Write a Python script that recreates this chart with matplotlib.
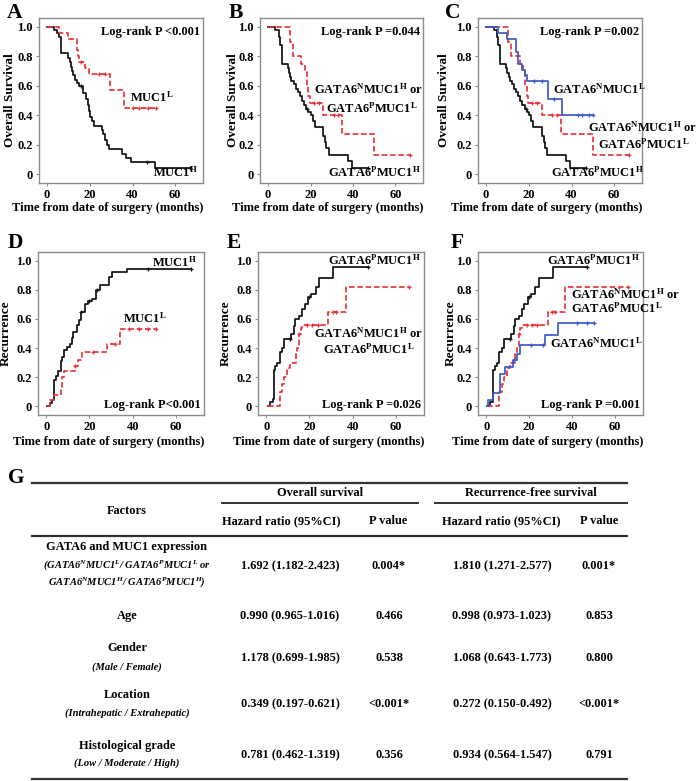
import numpy as np
import matplotlib
matplotlib.use('Agg')
import matplotlib.pyplot as plt

plt.rcParams['font.family'] = ['Liberation Serif', 'DejaVu Serif']
plt.rcParams['font.weight'] = 'bold'
plt.rcParams['mathtext.fontset'] = 'custom'
plt.rcParams['mathtext.rm'] = 'Liberation Serif:bold'
plt.rcParams['mathtext.it'] = 'Liberation Serif:italic:bold'
plt.rcParams['mathtext.bf'] = 'Liberation Serif:bold'

# ---------------- data: Kaplan-Meier step curves ----------------
# Overall survival, MUC1 high / low (panel A)
a_high_t = [0, 3, 4.4, 5.6, 6.4, 6.7, 10, 10.5, 11, 11.5, 12, 13, 14, 15, 17, 18, 19, 19.5, 20, 21, 22,
            25.5, 26, 27, 28, 29, 35, 37, 39.5, 50.6]
a_high_s = [1.0, 0.98, 0.96, 0.93, 0.88, 0.82, 0.79, 0.76, 0.73, 0.70, 0.67, 0.64, 0.62, 0.60, 0.55, 0.51,
            0.47, 0.43, 0.39, 0.36, 0.33, 0.30, 0.27, 0.23, 0.20, 0.17, 0.14, 0.11, 0.08, 0.04]
a_high_cens = [16, 46.7, 67]
a_low_t = [0, 5.6, 10, 14.1, 14.5, 15, 17.7, 19.7, 29.5, 36]
a_low_s = [1.0, 0.96, 0.92, 0.84, 0.80, 0.76, 0.72, 0.68, 0.57, 0.45]
a_low_cens = [16, 24.4, 27, 40.4, 43.2, 47.4, 51]

# Overall survival, GATA6/MUC1 groups (panels B, C)
os_pH_t = [0, 3.5, 5, 5.5, 6.6, 9.3, 10, 10.5, 11, 12, 13, 14, 15, 16, 17, 18, 19, 20, 21, 22, 26, 27,
           27.5, 28.5, 37.5, 39.5]
os_pH_s = [1.0, 0.98, 0.93, 0.88, 0.75, 0.72, 0.69, 0.66, 0.63, 0.61, 0.58, 0.56, 0.53, 0.50, 0.47, 0.44,
           0.42, 0.40, 0.36, 0.32, 0.26, 0.22, 0.18, 0.13, 0.09, 0.04]
os_pH_cens = [18.5, 47]
os_mix_t = [0, 10.3, 11.7, 15.7, 17.2, 18.2, 19, 19.6, 26, 35, 50]
os_mix_s = [1.0, 0.90, 0.80, 0.75, 0.70, 0.60, 0.53, 0.48, 0.40, 0.27, 0.13]
os_mix_cens = [21.7, 24, 31, 33, 67]
os_nL_t = [0, 5.6, 10, 13.8, 15, 17, 18.2, 19.3, 29.2, 35.7]
os_nL_s = [1.0, 0.96, 0.92, 0.83, 0.75, 0.71, 0.67, 0.63, 0.51, 0.40]
os_nL_cens = [22.4, 26.3, 31.8, 43, 45, 48, 50]

# Recurrence, MUC1 high / low (panel D)
d_high_t = [0.5, 1.7, 2.8, 3.6, 4.3, 5.5, 6.7, 7.5, 8.3, 9.5, 11.1, 11.8, 12.6, 14.2, 15.3, 16.0, 17.9,
            19.5, 21.0, 23.1, 25.0, 29.0, 30.3, 37.5]
d_high_v = [0.0, 0.02, 0.04, 0.18, 0.21, 0.24, 0.31, 0.34, 0.39, 0.41, 0.43, 0.47, 0.51, 0.56, 0.59, 0.65,
            0.70, 0.72, 0.74, 0.80, 0.83, 0.885, 0.92, 0.94]
d_high_cens = [16.3, 19.6, 23.5, 47, 67]
d_low_t = [0.5, 1.7, 3.6, 6.7, 7.5, 8.3, 13.2, 14.8, 16.4, 28.2, 34.3]
d_low_v = [0.0, 0.04, 0.08, 0.13, 0.20, 0.24, 0.28, 0.32, 0.37, 0.43, 0.53]
d_low_cens = [13.5, 21.5, 31.6, 38.5, 43, 47.3, 50.6]

# Recurrence, GATA6/MUC1 groups (panels E, F)
rec_pH_t = [0.6, 1.9, 3.0, 3.4, 4.2, 5.0, 6.2, 7.3, 8.4, 11.5, 12.8, 13.5, 15.1, 16.7, 17.8, 19.3, 20.9,
            22.9, 24.5, 31]
rec_pH_v = [0.0, 0.03, 0.05, 0.25, 0.28, 0.30, 0.37, 0.40, 0.46, 0.50, 0.55, 0.60, 0.62, 0.67, 0.70, 0.75,
            0.77, 0.82, 0.88, 0.96]
rec_pH_cens = [11, 20, 47]
rec_mix_t = [0.6, 6.2, 7.3, 8.1, 9.7, 10.9, 13.6, 14.3, 15.1, 15.9, 16.7, 28.8, 36.9]
rec_mix_v = [0.0, 0.10, 0.15, 0.20, 0.26, 0.30, 0.36, 0.40, 0.50, 0.535, 0.56, 0.65, 0.82]
rec_mix_cens = [15.2, 18.8, 21.4, 23.8, 30.7, 32.2, 66]
rec_nL_t = [0.5, 0.8, 3.1, 6.5, 8.6, 12.5, 14.3, 15.9, 27.6, 33.5]
rec_nL_v = [0.0, 0.04, 0.09, 0.22, 0.27, 0.32, 0.36, 0.42, 0.49, 0.575]
rec_nL_cens = [13, 21, 26.5, 42.3, 47, 50]

logrank = ['Log-rank P <0.001', 'Log-rank P =0.044', 'Log-rank P =0.002',
           'Log-rank P<0.001', 'Log-rank P =0.026', 'Log-rank P =0.001']
x_ticks = [0, 20, 40, 60]
y_ticks = [0, 0.2, 0.4, 0.6, 0.8, 1.0]
y_ticklabels = ['0', '0.2', '0.4', '0.6', '0.8', '1.0']

# ---------------- data: table G ----------------
factors = ['GATA6 and MUC1 expression', 'Age', 'Gender', 'Location', 'Histological grade']
factor_notes = [[r'(GATA6$^{N}$MUC1$^{L}$/ GATA6$^{P}$MUC1$^{L}$ or',
                 r'GATA6$^{N}$MUC1$^{H}$/ GATA6$^{P}$MUC1$^{H}$)'],
                [], ['(Male / Female)'], ['(Intrahepatic / Extrahepatic)'], ['(Low / Moderate / High)']]
os_hr = ['1.692 (1.182-2.423)', '0.990 (0.965-1.016)', '1.178 (0.699-1.985)',
         '0.349 (0.197-0.621)', '0.781 (0.462-1.319)']
os_p = ['0.004*', '0.466', '0.538', '<0.001*', '0.356']
rfs_hr = ['1.810 (1.271-2.577)', '0.998 (0.973-1.023)', '1.068 (0.643-1.773)',
          '0.272 (0.150-0.492)', '0.934 (0.564-1.547)']
rfs_p = ['0.001*', '0.853', '0.800', '<0.001*', '0.791']

# ---------------- drawing ----------------
BLACK = '#111111'
RED = '#E8333A'
BLUE = '#3A5BC7'
W, H = 696, 781
fig = plt.figure(figsize=(W / 100, H / 100), dpi=100)

# table axes in pixel coordinates (behind the plots)
tab = fig.add_axes([0, 0, 1, 1])
tab.set_xlim(0, W)
tab.set_ylim(H, 0)
tab.axis('off')


def box(l, t, r, b):
    return [l / W, 1 - b / H, (r - l) / W, (b - t) / H]


def km(ax, t, s, cens, color, dashed=False):
    t = np.asarray(t, float)
    s = np.asarray(s, float)
    end = max(cens)
    tt = np.append(t, end)
    ss = np.append(s, s[-1])
    ls = (0, (3.2, 1.6)) if dashed else '-'
    ax.step(tt, ss, where='post', color=color, lw=1.25, ls=ls)
    c = np.asarray(cens, float)
    idx = np.searchsorted(t, c, side='right') - 1
    ax.plot(c, s[idx], ls='none', marker='+', ms=3.5, mew=0.9, color=color)


def style(ax, ylabel, ylab_x, xlab_y, lr, lr_y):
    ax.set_xlim(-3.8, 73)
    ax.set_ylim(-0.06, 1.06)
    ax.set_xticks(x_ticks)
    ax.set_yticks(y_ticks)
    ax.set_yticklabels(y_ticklabels)
    for sp in ax.spines.values():
        sp.set_color('#8c8c8c')
        sp.set_linewidth(1.0)
    ax.tick_params(length=2.5, width=0.8, color='#8c8c8c', labelsize=9, pad=2)
    for lb in ax.get_xticklabels() + ax.get_yticklabels():
        lb.set_fontweight('bold')
    ax.set_ylabel(ylabel, fontsize=9.5, fontweight='bold')
    ax.yaxis.set_label_coords(ylab_x, 0.5)
    ax.set_xlabel('Time from date of surgery (months)', fontsize=9, fontweight='bold', ha='right')
    ax.xaxis.set_label_coords(1.005, xlab_y)
    ax.text(0.98, lr_y, lr, transform=ax.transAxes, ha='right', va='center', fontsize=9,
            fontweight='bold')


def lab(ax, x, y, s, ha='center'):
    ax.text(x, y, s, ha=ha, va='center', fontsize=9, fontweight='bold', clip_on=False)


# Panel A
axA = fig.add_axes(box(39, 18, 203, 183))
km(axA, a_high_t, a_high_s, a_high_cens, BLACK)
km(axA, a_low_t, a_low_s, a_low_cens, RED, dashed=True)
style(axA, 'Overall Survival', -0.14, -0.115, logrank[0], 0.915)
lab(axA, 39, 0.52, r'MUC1$^{\rm L}$', ha='left')
lab(axA, 49.5, 0.01, r'MUC1$^{\rm H}$', ha='left')

# Panel B
axB = fig.add_axes(box(260, 18, 423, 183))
km(axB, os_pH_t, os_pH_s, os_pH_cens, BLACK)
km(axB, os_mix_t, os_mix_s, os_mix_cens, RED, dashed=True)
style(axB, 'Overall Survival', -0.13, -0.115, logrank[1], 0.915)
lab(axB, 47.5, 0.575, r'GATA6$^{\rm N}$MUC1$^{\rm H}$ or')
lab(axB, 48.9, 0.446, r'GATA6$^{\rm P}$MUC1$^{\rm L}$')
lab(axB, 50.3, 0.01, r'GATA6$^{\rm P}$MUC1$^{\rm H}$')

# Panel C
axC = fig.add_axes(box(478, 18, 642, 183))
km(axC, os_pH_t, os_pH_s, os_pH_cens, BLACK)
km(axC, os_mix_t, os_mix_s, os_mix_cens, RED, dashed=True)
km(axC, os_nL_t, os_nL_s, os_nL_cens, BLUE)
style(axC, 'Overall Survival', -0.17, -0.115, logrank[2], 0.915)
lab(axC, 31.3, 0.575, r'GATA6$^{\rm N}$MUC1$^{\rm L}$', ha='left')
lab(axC, 73.3, 0.316, r'GATA6$^{\rm N}$MUC1$^{\rm H}$ or')
lab(axC, 73.8, 0.20, r'GATA6$^{\rm P}$MUC1$^{\rm L}$')
lab(axC, 52.2, 0.01, r'GATA6$^{\rm P}$MUC1$^{\rm H}$')

# Panel D
axD = fig.add_axes(box(38, 252, 204, 415))
km(axD, d_high_t, d_high_v, d_high_cens, BLACK)
km(axD, d_low_t, d_low_v, d_low_cens, RED, dashed=True)
style(axD, 'Recurrence', -0.157, -0.13, logrank[3], 0.06)
lab(axD, 59.3, 0.99, r'MUC1$^{\rm H}$')
lab(axD, 45.6, 0.607, r'MUC1$^{\rm L}$')

# Panel E
axE = fig.add_axes(box(258, 252, 424, 415))
km(axE, rec_pH_t, rec_pH_v, rec_pH_cens, BLACK)
km(axE, rec_mix_t, rec_mix_v, rec_mix_cens, RED, dashed=True)
style(axE, 'Recurrence', -0.157, -0.13, logrank[4], 0.06)
lab(axE, 50, 1.0, r'GATA6$^{\rm P}$MUC1$^{\rm H}$')
lab(axE, 47.5, 0.50, r'GATA6$^{\rm N}$MUC1$^{\rm H}$ or')
lab(axE, 47.5, 0.39, r'GATA6$^{\rm P}$MUC1$^{\rm L}$')

# Panel F
axF = fig.add_axes(box(478, 252, 643, 415))
km(axF, rec_pH_t, rec_pH_v, rec_pH_cens, BLACK)
km(axF, rec_mix_t, rec_mix_v, rec_mix_cens, RED, dashed=True)
km(axF, rec_nL_t, rec_nL_v, rec_nL_cens, BLUE)
style(axF, 'Recurrence', -0.13, -0.13, logrank[5], 0.06)
lab(axF, 50.1, 1.0, r'GATA6$^{\rm P}$MUC1$^{\rm H}$')
lab(axF, 39.3, 0.77, r'GATA6$^{\rm N}$MUC1$^{\rm H}$ or', ha='left')
lab(axF, 39.3, 0.675, r'GATA6$^{\rm P}$MUC1$^{\rm L}$', ha='left')
lab(axF, 51.3, 0.43, r'GATA6$^{\rm N}$MUC1$^{\rm L}$')

# panel letters
for letter, (px, py) in zip('ABCDEFG', [(15, 13), (236, 13), (453, 13), (15, 243), (234, 243),
                                        (457, 243), (16, 478)]):
    tab.text(px, py, letter, ha='center', va='center', fontsize=15.5, fontweight='bold')

# ---------------- table G ----------------
LC = '#333333'
L0, L1 = 32, 627
tab.plot([L0, L1], [483, 483], color=LC, lw=1.6)
tab.plot([222, 418], [503, 503], color=LC, lw=1.4)
tab.plot([435, L1], [503, 503], color=LC, lw=1.4)
tab.plot([L0, L1], [536, 536], color=LC, lw=1.6)
tab.plot([L0, L1], [779, 779], color=LC, lw=1.6)

FS = 8.9
tab.text(127, 511, 'Factors', ha='center', va='center', fontsize=FS, fontweight='bold')
tab.text(320, 493, 'Overall survival', ha='center', va='center', fontsize=FS, fontweight='bold')
tab.text(531, 493, 'Recurrence-free survival', ha='center', va='center', fontsize=FS, fontweight='bold')
for x, s in [(281, 'Hazard ratio (95%CI)'), (388, 'P value'), (501, 'Hazard ratio (95%CI)'),
             (599, 'P value')]:
    tab.text(x, 521, s, ha='center', va='center', fontsize=FS, fontweight='bold')

factor_y = [547, 616, 648, 695, 746]
note_y = [[565, 582], [], [667], [713], [763]]
value_y = [566, 616, 658, 704, 755]
for i in range(len(factors)):
    tab.text(127, factor_y[i], factors[i], ha='center', va='center', fontsize=FS, fontweight='bold')
    for ny, note in zip(note_y[i], factor_notes[i]):
        tab.text(127, ny, note, ha='center', va='center', fontsize=7.6, fontweight='bold',
                 fontstyle='italic')
    tab.text(290, value_y[i], os_hr[i], ha='center', va='center', fontsize=FS, fontweight='bold')
    tab.text(389, value_y[i], os_p[i], ha='center', va='center', fontsize=FS, fontweight='bold')
    tab.text(502, value_y[i], rfs_hr[i], ha='center', va='center', fontsize=FS, fontweight='bold')
    tab.text(599, value_y[i], rfs_p[i], ha='center', va='center', fontsize=FS, fontweight='bold')

fig.savefig('out.png', dpi=100)
